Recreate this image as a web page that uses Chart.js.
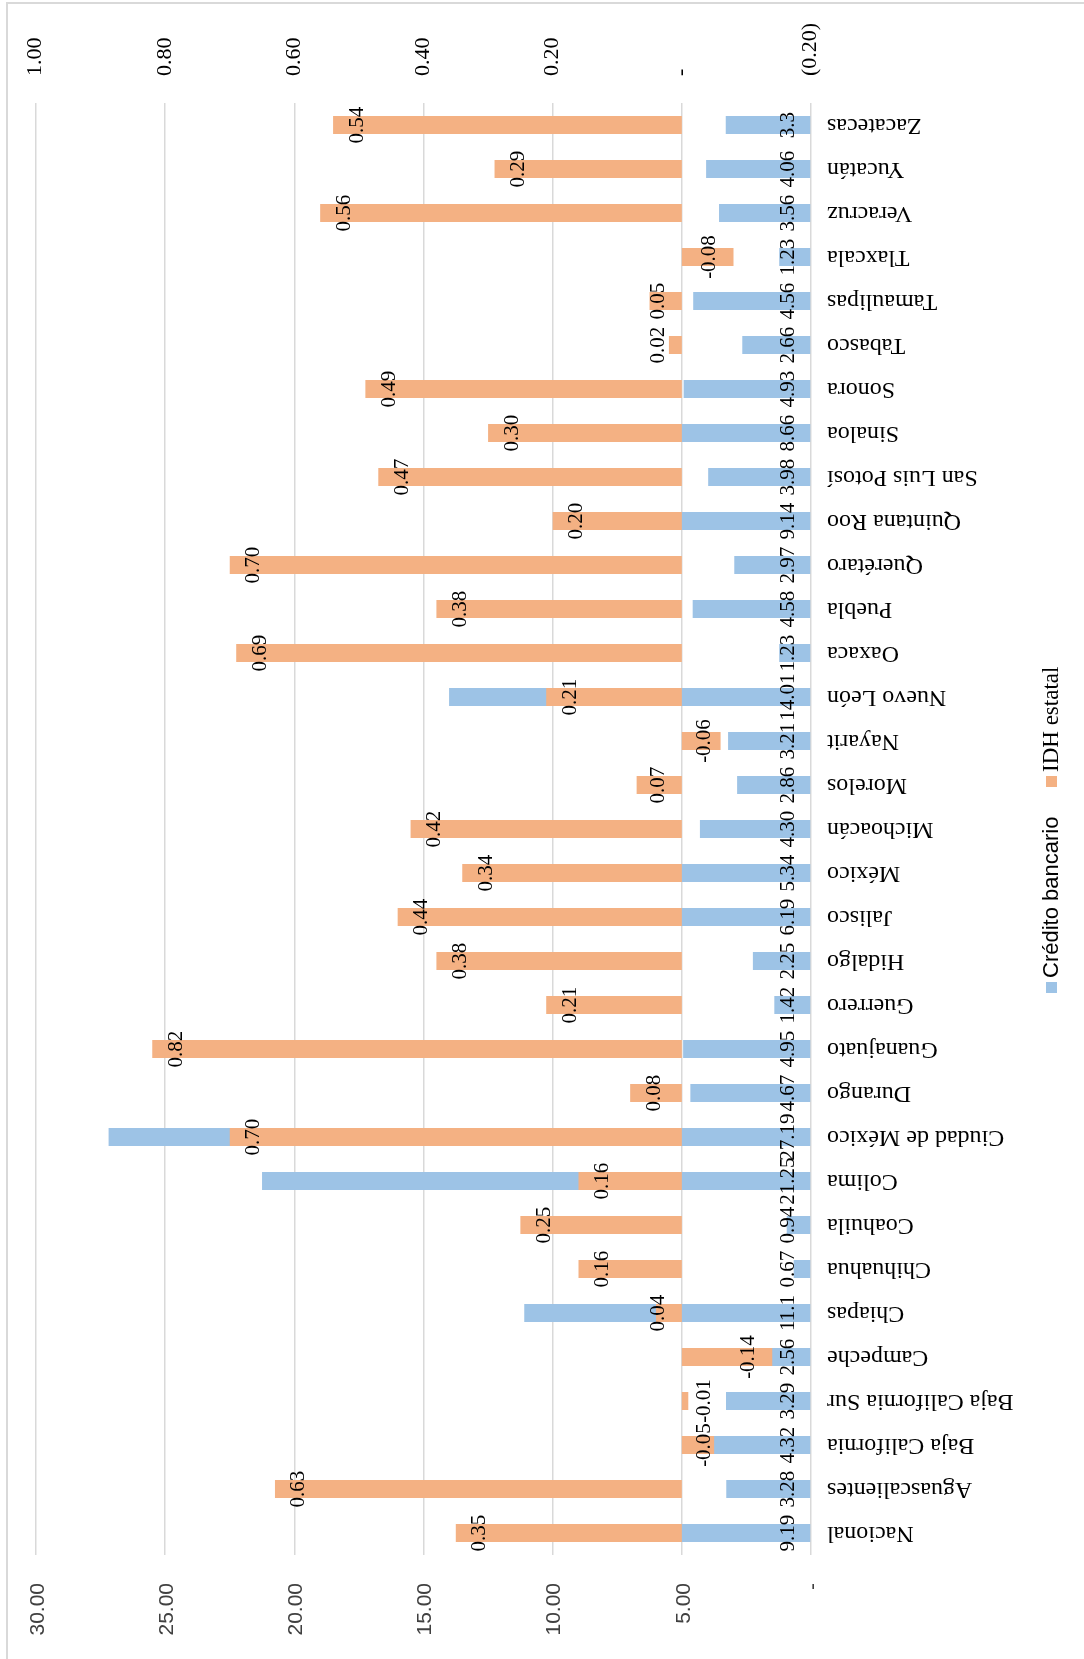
<!DOCTYPE html>
<html lang="es">
<head>
<meta charset="UTF-8">
<title>Crédito bancario e IDH estatal</title>
<style>
  html, body { margin: 0; padding: 0; background: #fff; }
  #wrap { position: relative; width: 1084px; height: 1659px; }
</style>
</head>
<body>
<div id="wrap"><canvas id="chart"></canvas></div>
<script src="https://cdn.jsdelivr.net/npm/chart.js"></script>
<script>
var categories = [
  "Nacional", "Aguascalientes", "Baja California", "Baja California Sur", "Campeche",
  "Chiapas", "Chihuahua", "Coahuila", "Colima", "Ciudad de México", "Durango",
  "Guanajuato", "Guerrero", "Hidalgo", "Jalisco", "México", "Michoacán", "Morelos",
  "Nayarit", "Nuevo León", "Oaxaca", "Puebla", "Querétaro", "Quintana Roo",
  "San Luis Potosí", "Sinaloa", "Sonora", "Tabasco", "Tamaulipas", "Tlaxcala",
  "Veracruz", "Yucatán", "Zacatecas"
];

// Crédito bancario, as printed on the bars
var creditoLabels = [
  "9.19", "3.28", "4.32", "3.29", "2.56", "11.1", "0.67", "0.94", "21.25", "27.19", "4.67",
  "4.95", "1.42", "2.25", "6.19", "5.34", "4.30", "2.86", "3.21", "14.01", "1.23",
  "4.58", "2.97", "9.14", "3.98", "8.66", "4.93", "2.66", "4.56", "1.23", "3.56", "4.06", "3.3"
];
var credito = creditoLabels.map(Number);

// IDH estatal
var idh = [
  0.35, 0.63, -0.05, -0.01, -0.14, 0.04, 0.16, 0.25, 0.16, 0.70, 0.08,
  0.82, 0.21, 0.38, 0.44, 0.34, 0.42, 0.07, -0.06, 0.21, 0.69,
  0.38, 0.70, 0.20, 0.47, 0.30, 0.49, 0.02, 0.05, -0.08, 0.56, 0.29, 0.54
];

var seriesNames = ["Crédito bancario", "IDH estatal"];
var seriesColors = ["#9dc3e6", "#f4b183"];

function fmtPrimary(v) {
  if (Math.abs(v) < 1e-9) return "-";
  return v.toFixed(2);
}
function fmtSecondary(v) {
  if (Math.abs(v) < 1e-9) return "-";
  if (v < 0) return "(" + Math.abs(v).toFixed(2) + ")";
  return v.toFixed(2);
}

var GRID = "#d9d9d9";

var textPlugin = {
  id: "rotatedText",
  afterDatasetsDraw: function (chart) {
    var ctx = chart.ctx;
    var yScale = chart.scales.y;
    var area = chart.chartArea;

    // value labels, rotated to read bottom-to-top
    ctx.save();
    ctx.fillStyle = "#000";
    ctx.font = "21px 'Liberation Serif'";
    ctx.textAlign = "center";
    ctx.textBaseline = "middle";

    var blueMeta = chart.getDatasetMeta(0);
    var base1 = chart.scales.x.getPixelForValue(0);
    blueMeta.data.forEach(function (bar, i) {
      ctx.save();
      ctx.translate(base1 - 23, bar.y);
      ctx.rotate(-Math.PI / 2);
      ctx.fillText(creditoLabels[i], 0, 0);
      ctx.restore();
    });

    var orangeMeta = chart.getDatasetMeta(1);
    var base2 = chart.scales.x2.getPixelForValue(0);
    orangeMeta.data.forEach(function (bar, i) {
      var cx;
      if (idh[i] >= 0) cx = Math.min(bar.x + 24, base2 - 23);
      else cx = Math.max(bar.x - 24, base2 + 23);
      ctx.save();
      ctx.translate(cx, bar.y);
      ctx.rotate(-Math.PI / 2);
      ctx.fillText(idh[i].toFixed(2), 0, 0);
      ctx.restore();
    });
    ctx.restore();

    // category names, upside down
    ctx.save();
    ctx.fillStyle = "#000";
    ctx.font = "24px 'Liberation Serif'";
    ctx.textAlign = "right";
    ctx.textBaseline = "middle";
    categories.forEach(function (name, i) {
      var y = yScale.getPixelForValue(i);
      ctx.save();
      ctx.translate(area.right + 16, y);
      ctx.rotate(Math.PI);
      ctx.fillText(name, 0, 0);
      ctx.restore();
    });
    ctx.restore();
  },
  afterDraw: function (chart) {
    var ctx = chart.ctx;
    // legend, rotated
    var items = [
      { text: seriesNames[0], color: seriesColors[0], font: "22px 'Liberation Sans'", y: 993 },
      { text: seriesNames[1], color: seriesColors[1], font: "23px 'Liberation Serif'", y: 787 }
    ];
    items.forEach(function (it) {
      ctx.save();
      ctx.fillStyle = it.color;
      ctx.fillRect(1046, it.y - 11, 11, 11);
      ctx.translate(1052, it.y - 15);
      ctx.rotate(-Math.PI / 2);
      ctx.fillStyle = "#000";
      ctx.font = it.font;
      ctx.textAlign = "left";
      ctx.textBaseline = "middle";
      ctx.fillText(it.text, 0, 0);
      ctx.restore();
    });

    // chart frame (top and left edges visible)
    ctx.save();
    ctx.strokeStyle = GRID;
    ctx.lineWidth = 2;
    ctx.beginPath();
    ctx.moveTo(7, 1659);
    ctx.lineTo(7, 3);
    ctx.lineTo(1084, 3);
    ctx.stroke();
    ctx.restore();
  }
};

function noSidePadding(scale, h) {
  scale.height = h;
  scale.paddingLeft = 0;
  scale.paddingRight = 0;
}

var ctx = document.getElementById("chart").getContext("2d");
var chart = new Chart(ctx, {
  type: "bar",
  data: {
    labels: categories,
    datasets: [
      {
        label: seriesNames[0],
        data: credito,
        xAxisID: "x",
        backgroundColor: seriesColors[0],
        grouped: false,
        order: 2,
        categoryPercentage: 1,
        barPercentage: 0.41
      },
      {
        label: seriesNames[1],
        data: idh,
        xAxisID: "x2",
        backgroundColor: seriesColors[1],
        grouped: false,
        order: 1,
        categoryPercentage: 1,
        barPercentage: 0.41
      }
    ]
  },
  options: {
    indexAxis: "y",
    responsive: true,
    maintainAspectRatio: false,
    animation: false,
    layout: { padding: { left: 36, right: 0, top: 0, bottom: 0 } },
    plugins: {
      legend: { display: false },
      tooltip: { enabled: false }
    },
    scales: {
      y: {
        type: "category",
        position: "right",
        reverse: true,
        ticks: { display: false },
        grid: { display: false },
        border: { display: false },
        afterFit: function (scale) { scale.width = 273; }
      },
      x: {
        position: "bottom",
        min: 0,
        max: 30,
        reverse: true,
        ticks: {
          stepSize: 5,
          autoSkip: false,
          minRotation: 90,
          maxRotation: 90,
          padding: 28,
          labelOffset: 2,
          color: "#404040",
          font: { family: "'Liberation Sans'", size: 21 },
          callback: function (v) { return fmtPrimary(v); }
        },
        grid: { color: GRID, lineWidth: 1.5, drawTicks: false },
        border: { display: false },
        afterFit: function (scale) { noSidePadding(scale, 104); }
      },
      x2: {
        position: "top",
        min: -0.2,
        max: 1.0,
        reverse: true,
        ticks: {
          stepSize: 0.2,
          autoSkip: false,
          minRotation: 90,
          maxRotation: 90,
          padding: 27,
          labelOffset: 26,
          color: "#000",
          font: { family: "'Liberation Serif'", size: 22 },
          callback: function (v) { return fmtSecondary(v); }
        },
        grid: { drawOnChartArea: false, drawTicks: false },
        border: { display: false },
        afterFit: function (scale) { noSidePadding(scale, 103); }
      }
    }
  },
  plugins: [textPlugin]
});
</script>
</body>
</html>
